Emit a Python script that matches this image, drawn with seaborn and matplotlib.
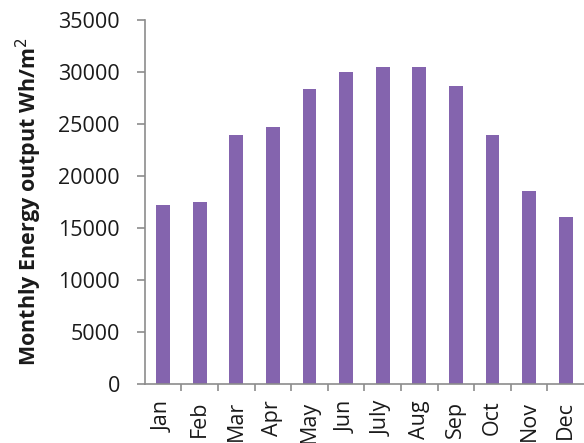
import matplotlib
matplotlib.use("Agg")
import matplotlib.pyplot as plt
import seaborn as sns
import pandas as pd
import numpy as np
from matplotlib.ticker import FixedLocator

months = ["Jan", "Feb", "Mar", "Apr", "May", "Jun", "July", "Aug", "Sep", "Oct", "Nov", "Dec"]
energy = [17200, 17500, 23900, 24700, 28400, 30000, 30500, 30500, 28700, 23900, 18600, 16100]
yticks = [0, 5000, 10000, 15000, 20000, 25000, 30000, 35000]

sns.set_theme(style="white")
plt.rcParams['font.family'] = ['Open Sans', 'DejaVu Sans']

df = pd.DataFrame({"month": months, "energy": energy})

fig = plt.figure(figsize=(5.84, 4.43), dpi=100)
ax = fig.add_axes([0.248, 0.1332, 0.752, 0.8217])
sns.barplot(data=df, x="month", y="energy", color="#8464AE", width=0.38, ax=ax,
            saturation=1, edgecolor="none")

ax.set_xlim(-0.5, 11.5)
ax.set_ylim(0, 35000)
ax.set_yticks(yticks)
ax.set_yticklabels([str(v) for v in yticks], fontsize=15.5, color="#1a1a1a")
ax.set_xticks(range(len(months)))
ax.set_xticklabels(months, rotation=90, fontsize=15.5, color="#1a1a1a", va="top")
ax.xaxis.set_minor_locator(FixedLocator(np.arange(0.5, 11.5, 1.0)))
ax.tick_params(axis="x", which="major", length=0, pad=12)
ax.tick_params(axis="x", which="minor", length=5, width=1.2, color="#8c8c8c", direction="out", bottom=True)
ax.tick_params(axis="y", which="major", length=6, width=1.2, color="#8c8c8c", direction="out", left=True, pad=12)

for s in ["top", "right"]:
    ax.spines[s].set_visible(False)
for s in ["left", "bottom"]:
    ax.spines[s].set_color("#8c8c8c")
    ax.spines[s].set_linewidth(1.2)

ax.set_xlabel("")
ax.set_ylabel("Monthly Energy output Wh/m$^2$", fontsize=15.5, fontweight="bold", color="#1a1a1a", labelpad=10)

fig.savefig("out.png", dpi=100)
